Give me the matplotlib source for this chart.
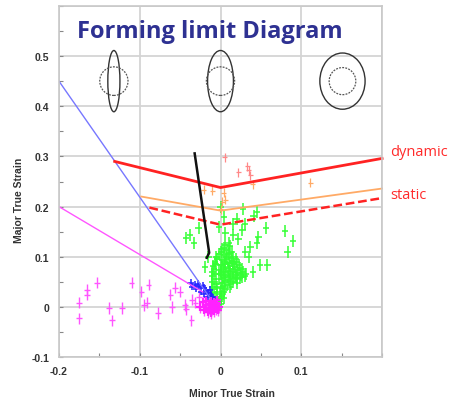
import matplotlib
matplotlib.use("Agg")
import matplotlib.pyplot as plt
from matplotlib.patches import Ellipse

# limit curves
dyn_x = [-0.131, 0.0, 0.2]
dyn_y = [0.290, 0.238, 0.296]
stat_x = [-0.098, 0.0, 0.2]
stat_y = [0.220, 0.192, 0.236]
dash_x = [-0.088, 0.0, 0.2]
dash_y = [0.198, 0.164, 0.217]
blue_line_x = [-0.2, -0.013]
blue_line_y = [0.45, 0.018]
mag_line_x = [-0.2, -0.022]
mag_line_y = [0.20, 0.030]
black_x = [-0.032, -0.014, -0.017]
black_y = [0.306, 0.108, 0.098]

# measured points
red_x = [0.005, 0.022, 0.033, 0.035, 0.037]
red_y = [0.298, 0.268, 0.280, 0.272, 0.262]
orange_x = [-0.021, -0.010, 0.004, 0.002, 0.006, 0.040, 0.111, 0.000]
orange_y = [0.234, 0.232, 0.228, 0.210, 0.214, 0.245, 0.248, 0.195]
green_x = [-0.004, -0.002, 0.000, -0.006, 0.002, -0.004, 0.004, -0.008, 0.000, 0.006,
           -0.006, 0.002, 0.008, 0.012, -0.008, -0.002, 0.004, 0.010, 0.016, 0.020,
           -0.006, 0.000, 0.006, 0.012, 0.018, 0.024, 0.030, -0.008, -0.002, 0.004,
           0.010, 0.016, 0.022, 0.028, -0.006, 0.000, 0.006, 0.012, 0.018, 0.024,
           -0.004, 0.002, 0.008, 0.014, 0.020, -0.002, 0.004, 0.010, 0.016, 0.002,
           0.008, 0.014, 0.006, 0.012, -0.010, -0.012,
           -0.010, -0.004, 0.003, -0.010, 0.006, 0.013, -0.010, 0.003, 0.009, 0.015,
           0.021, 0.027, -0.010, 0.001, 0.007, 0.013, 0.019, 0.025, 0.031, -0.009,
           0.003, 0.009, 0.015, 0.021, 0.027, -0.007, 0.005, 0.011, 0.017, 0.023,
           -0.005, 0.007, 0.013, 0.019, 0.001, 0.011, 0.004, 0.010, -0.001, 0.004,
           -0.008, 0.000,
           0.045, 0.028, 0.041, 0.020, 0.015, 0.030, -0.027, -0.038, -0.043, -0.033,
           0.006, 0.016, 0.027, 0.056, 0.080, 0.090, 0.083, 0.058, 0.049, 0.045,
           0.037, 0.047, 0.035, 0.040, -0.019, -0.015, 0.004, 0.000, -0.002, 0.022, 0.030]
green_y = [0.005, 0.010, 0.015, 0.020, 0.022, 0.030, 0.030, 0.035, 0.038, 0.036,
           0.045, 0.047, 0.044, 0.040, 0.055, 0.056, 0.058, 0.054, 0.050, 0.048,
           0.065, 0.066, 0.064, 0.062, 0.060, 0.058, 0.062, 0.075, 0.074, 0.076,
           0.072, 0.070, 0.068, 0.070, 0.085, 0.084, 0.086, 0.082, 0.080, 0.078,
           0.095, 0.094, 0.096, 0.092, 0.090, 0.105, 0.104, 0.106, 0.100, 0.115,
           0.114, 0.110, 0.124, 0.122, 0.028, 0.022,
           0.040, 0.040, 0.042, 0.050, 0.050, 0.046, 0.062, 0.061, 0.060, 0.057,
           0.055, 0.060, 0.070, 0.070, 0.070, 0.066, 0.064, 0.064, 0.066, 0.082,
           0.080, 0.078, 0.076, 0.074, 0.076, 0.090, 0.090, 0.088, 0.086, 0.084,
           0.100, 0.100, 0.098, 0.096, 0.110, 0.108, 0.118, 0.128, 0.026, 0.018,
           0.012, 0.005,
           0.190, 0.196, 0.182, 0.175, 0.165, 0.165, 0.158, 0.144, 0.138, 0.128,
           0.148, 0.144, 0.154, 0.158, 0.152, 0.132, 0.110, 0.084, 0.084, 0.128,
           0.120, 0.140, 0.100, 0.070, 0.080, 0.100, 0.180, 0.200, 0.160, 0.135, 0.110]
blue_x = [-0.037, -0.032, -0.027, -0.021, -0.018, -0.015, -0.012, -0.024, -0.020,
          -0.010, -0.008, -0.016, -0.030, -0.035, -0.028, -0.022, -0.013]
blue_y = [0.048, 0.044, 0.040, 0.038, 0.032, 0.028, 0.024, 0.030, 0.026,
          0.020, 0.015, 0.020, 0.036, 0.040, 0.046, 0.042, 0.034]
mag_x = [-0.175, -0.175, -0.165, -0.165, -0.153, -0.138, -0.134, -0.122, -0.110, -0.098,
         -0.095, -0.089, -0.091, -0.077, -0.060, -0.062, -0.056, -0.050, -0.044, -0.043,
         -0.036, -0.035, -0.031, -0.027,
         -0.002, -0.006, -0.010, -0.014, -0.018, -0.004, -0.008, -0.012, -0.020, -0.016,
         -0.008, -0.003, -0.022, -0.025, -0.012, -0.004, -0.014, -0.018, -0.006, -0.010]
mag_y = [0.008, -0.022, 0.034, 0.024, 0.048, -0.002, -0.026, -0.002, 0.048, 0.030,
         0.004, 0.044, 0.008, -0.012, 0.000, 0.024, 0.038, 0.030, 0.004, -0.004,
         -0.026, 0.014, 0.008, 0.020,
         0.000, -0.004, 0.002, -0.002, 0.004, 0.008, 0.010, 0.012, -0.006, -0.010,
         -0.008, -0.006, 0.010, 0.000, -0.012, 0.014, 0.006, 0.012, 0.004, -0.004]

# strain ellipses: centre x, solid width, solid height, dotted width, dotted height
ell_x = [-0.132, 0.0, 0.151]
ell_w = [0.015, 0.032, 0.056]
ell_h = [0.122, 0.122, 0.112]
circ_w = [0.035, 0.035, 0.033]
circ_h = [0.057, 0.057, 0.054]
ell_y = 0.45

fig = plt.figure(figsize=(4.5, 4.02), dpi=100)
ax = fig.add_axes([0.131, 0.109, 0.718, 0.874])

gc = "#d4d4d4"
ax.set_xlim(-0.2, 0.2)
ax.set_ylim(-0.1, 0.6)
ax.set_xticks([-0.2, -0.1, 0, 0.1, 0.2])
ax.set_xticklabels(["-0.2", "-0.1", "0", "0.1", ""])
ax.set_yticks([-0.1, 0, 0.1, 0.2, 0.3, 0.4, 0.5, 0.6])
ax.set_yticklabels(["-0.1", "0", "0.1", "0.2", "0.3", "0.4", "0.5", ""])
ax.set_xticks([-0.15, -0.05, 0.05, 0.15], minor=True)
ax.set_yticks([-0.05, 0.05, 0.15, 0.25, 0.35, 0.45, 0.55], minor=True)
ax.tick_params(which="both", direction="in", color="#888888", length=3, width=0.8)
ax.tick_params(axis="y", pad=7)
ax.tick_params(axis="x", pad=6)
for lab in ax.get_xticklabels() + ax.get_yticklabels():
    lab.set_fontfamily("Liberation Sans")
    lab.set_fontweight("bold")
    lab.set_fontsize(7.5)
    lab.set_color("#333333")
ax.grid(True, color=gc, lw=1.3)
ax.set_axisbelow(True)
for s in ax.spines.values():
    s.set_color("#c8c8c8")
    s.set_linewidth(1.2)

# ellipses
for i in range(3):
    ax.add_patch(Ellipse((ell_x[i], ell_y), ell_w[i], ell_h[i], fill=False,
                         ec="#333333", lw=1.0))
    ax.add_patch(Ellipse((ell_x[i], ell_y), circ_w[i], circ_h[i], fill=False,
                         ec="#555555", lw=0.9, ls=(0, (1.5, 1))))

# points as error crosses
ax.errorbar(mag_x, mag_y, xerr=0.0035, yerr=0.011, fmt="none", ecolor="#ff55ff", elinewidth=1.0)
ax.errorbar(green_x, green_y, xerr=0.004, yerr=0.012, fmt="none", ecolor="#33ff33", elinewidth=1.1)
ax.errorbar(blue_x, blue_y, xerr=0.004, yerr=0.007, fmt="none", ecolor="#2222ff", elinewidth=1.1)
ax.errorbar(mag_x[24:], mag_y[24:], xerr=0.005, yerr=0.007, fmt="none", ecolor="#ff22ff", elinewidth=1.6)
ax.errorbar(red_x, red_y, xerr=0.003, yerr=0.009, fmt="none", ecolor="#ff8888", elinewidth=0.9)
ax.errorbar(orange_x, orange_y, xerr=0.003, yerr=0.009, fmt="none", ecolor="#ffaa66", elinewidth=0.9)

# lines
ax.plot(blue_line_x, blue_line_y, color="#7777ff", lw=1.0)
ax.plot(mag_line_x, mag_line_y, color="#ff55ff", lw=1.0)
ax.plot(stat_x, stat_y, color="#ffaa66", lw=1.3, clip_on=False)
ax.plot(dash_x, dash_y, color="#ff2222", lw=1.8, ls=(0, (3.5, 1.5)), clip_on=False)
ax.plot(dyn_x, dyn_y, color="#ff2222", lw=2.0, clip_on=False)
ax.plot(black_x, black_y, color="#111111", lw=1.8)

ax.text(0.056, 0.929, "Forming limit Diagram", transform=ax.transAxes, ha="left",
        va="center", color="#2e3192", fontsize=17, fontweight="bold", family="Open Sans")
fig.text(390 / 450, 1 - 152 / 402, "dynamic", color="#ff2a2a", fontsize=10.5,
         family="Open Sans", va="center", ha="left")
fig.text(390 / 450, 1 - 196 / 402, "static", color="#ff2a2a", fontsize=10.5,
         family="Open Sans", va="center", ha="left")

ax.set_xlabel("Minor True Strain", fontsize=7.5, fontweight="bold", family="Liberation Sans",
              color="#333333")
ax.set_ylabel("Major True Strain", fontsize=7.5, fontweight="bold", family="Liberation Sans",
              color="#333333")
ax.xaxis.set_label_coords(0.536, -0.088)
ax.yaxis.set_label_coords(-0.108, 0.45)

fig.savefig("out.png", dpi=100)
